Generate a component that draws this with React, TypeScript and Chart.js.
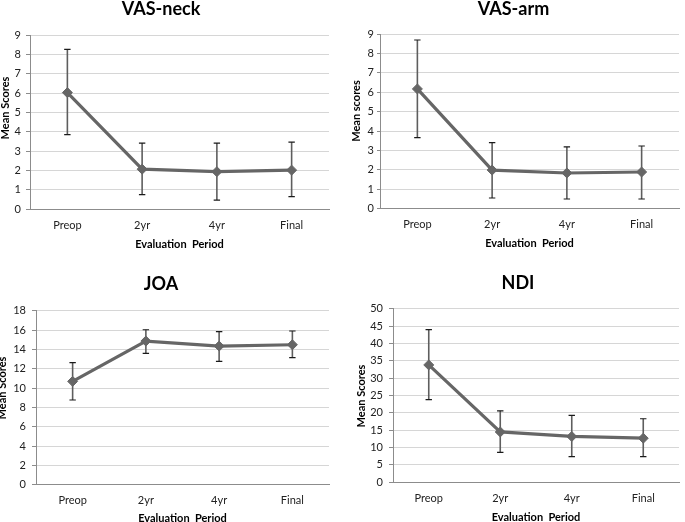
import React, { useEffect, useRef } from "react";
import { Chart, registerables } from "chart.js";

Chart.register(...registerables);

const categories = ["Preop", "2yr", "4yr", "Final"];

const vasNeckMean = [6.02, 2.06, 1.93, 2.01];
const vasNeckUpper = [8.26, 3.41, 3.41, 3.46];
const vasNeckLower = [3.85, 0.74, 0.46, 0.64];

const vasArmMean = [6.17, 1.99, 1.84, 1.89];
const vasArmUpper = [8.69, 3.4, 3.18, 3.23];
const vasArmLower = [3.66, 0.55, 0.5, 0.5];

const joaMean = [10.69, 14.86, 14.34, 14.48];
const joaUpper = [12.62, 16.03, 15.83, 15.9];
const joaLower = [8.76, 13.59, 12.76, 13.14];

const ndiMean = [33.8, 14.5, 13.2, 12.7];
const ndiUpper = [44.0, 20.6, 19.3, 18.3];
const ndiLower = [23.8, 8.6, 7.4, 7.4];

const FONT = "Lato, 'Open Sans', sans-serif";
const LINE = "#666666";
const TICK = "#222222";

type PanelProps = {
  title: string;
  yTitle: string;
  mean: number[];
  upper: number[];
  lower: number[];
  yMax: number;
  yStep: number;
  left: number;
  top: number;
  w: number;
  h: number;
  padR: number;
  yW: number;
  titlePadTop: number;
  titlePadBottom: number;
  xH: number;
  xTickPad: number;
  xTitlePb: number;
  yTickLen: number;
  yTickPad: number;
  yTitleX: number;
  yTitleY: number;
};

function Panel(p: PanelProps) {
  const ref = useRef<HTMLCanvasElement | null>(null);
  useEffect(() => {
    if (!ref.current) return;
    const errorBars = {
      id: "errorBars",
      beforeDatasetsDraw(chart: any) {
        const ctx = chart.ctx;
        const xs = chart.scales.x;
        const ys = chart.scales.y;
        ctx.save();
        for (let i = 0; i < p.mean.length; i++) {
          const x = xs.getPixelForValue(i);
          const yu = ys.getPixelForValue(p.upper[i]);
          const yl = ys.getPixelForValue(p.lower[i]);
          ctx.strokeStyle = "#5e5e5e";
          ctx.lineWidth = 1.6;
          ctx.beginPath();
          ctx.moveTo(x, yu);
          ctx.lineTo(x, yl);
          ctx.stroke();
          ctx.strokeStyle = "#1a1a1a";
          ctx.lineWidth = 1.2;
          ctx.beginPath();
          ctx.moveTo(x - 3.2, yu);
          ctx.lineTo(x + 3.2, yu);
          ctx.moveTo(x - 3.2, yl);
          ctx.lineTo(x + 3.2, yl);
          ctx.stroke();
        }
        ctx.restore();
      },
    };
    const yTitlePlugin = {
      id: "yTitlePlugin",
      afterDraw(chart: any) {
        const ctx = chart.ctx;
        ctx.save();
        ctx.translate(p.yTitleX, p.yTitleY);
        ctx.rotate(-Math.PI / 2);
        ctx.font = `bold 11px ${FONT}`;
        ctx.fillStyle = "#000000";
        ctx.textAlign = "center";
        ctx.textBaseline = "middle";
        ctx.fillText(p.yTitle, 0, 0);
        ctx.restore();
      },
    };
    const chart = new Chart(ref.current, {
      type: "line",
      data: {
        labels: categories,
        datasets: [
          {
            data: p.mean,
            borderColor: LINE,
            backgroundColor: LINE,
            borderWidth: 3.2,
            pointStyle: "rectRot",
            pointRadius: 5,
            pointBorderWidth: 1,
            pointBackgroundColor: LINE,
            pointBorderColor: LINE,
            tension: 0,
          },
        ],
      },
      options: {
        animation: false,
        responsive: false,
        devicePixelRatio: 1,
        layout: { padding: { left: 0, right: p.padR, top: 0, bottom: 0 } },
        plugins: {
          legend: { display: false },
          tooltip: { enabled: false },
          title: {
            display: true,
            text: p.title,
            color: "#000000",
            font: { family: FONT, size: 18, weight: "bold", lineHeight: 1 },
            padding: { top: p.titlePadTop, bottom: p.titlePadBottom },
          },
        },
        scales: {
          x: {
            type: "category",
            offset: true,
            grid: { display: false, drawTicks: false, tickLength: 0 },
            border: { display: true, color: "#8c8c8c", width: 1 },
            ticks: {
              color: TICK,
              font: { family: FONT, size: 11 },
              padding: p.xTickPad,
              maxRotation: 0,
              autoSkip: false,
            },
            title: {
              display: true,
              text: "Evaluation  Period",
              color: "#000000",
              font: { family: FONT, size: 11, weight: "bold", lineHeight: 1 },
              padding: { top: 0, bottom: p.xTitlePb },
            },
            afterFit: (s: any) => {
              s.height = p.xH;
            },
          },
          y: {
            min: 0,
            max: p.yMax,
            grid: {
              color: "#d6d6d6",
              lineWidth: 1,
              drawTicks: true,
              tickLength: p.yTickLen,
              tickColor: "#8c8c8c",
            },
            border: { display: true, color: "#8c8c8c", width: 1 },
            ticks: {
              stepSize: p.yStep,
              color: TICK,
              font: { family: FONT, size: 11 },
              padding: p.yTickPad,
            },
            afterFit: (s: any) => {
              s.width = p.yW;
            },
          },
        },
      },
      plugins: [errorBars, yTitlePlugin],
    } as any);
    return () => chart.destroy();
  }, []);
  return (
    <canvas
      ref={ref}
      width={p.w}
      height={p.h}
      style={{ position: "absolute", left: p.left, top: p.top, width: p.w, height: p.h }}
    />
  );
}

export default function App() {
  return (
    <div
      style={{
        position: "fixed",
        left: 0,
        top: 0,
        width: 685,
        height: 522,
        overflow: "hidden",
        background: "#ffffff",
      }}
    >
      <Panel
        title="VAS-neck"
        yTitle="Mean Scores"
        mean={vasNeckMean}
        upper={vasNeckUpper}
        lower={vasNeckLower}
        yMax={9}
        yStep={1}
        left={-7}
        top={0}
        w={347}
        h={260}
        padR={11}
        yW={37}
        titlePadTop={0}
        titlePadBottom={17}
        xH={51}
        xTickPad={9.4}
        xTitlePb={10}
        yTickLen={4}
        yTickPad={5}
        yTitleX={12}
        yTitleY={108}
      />
      <Panel
        title="VAS-arm"
        yTitle="Mean scores"
        mean={vasArmMean}
        upper={vasArmUpper}
        lower={vasArmLower}
        yMax={9}
        yStep={1}
        left={348}
        top={0}
        w={337}
        h={260}
        padR={6}
        yW={32}
        titlePadTop={0}
        titlePadBottom={16}
        xH={51.3}
        xTickPad={8.7}
        xTitlePb={11.5}
        yTickLen={3}
        yTickPad={3}
        yTitleX={8.7}
        yTitleY={111}
      />
      <Panel
        title="JOA"
        yTitle="Mean Scores"
        mean={joaMean}
        upper={joaUpper}
        lower={joaLower}
        yMax={18}
        yStep={2}
        left={-7}
        top={260}
        w={347}
        h={264}
        padR={11}
        yW={43}
        titlePadTop={15.5}
        titlePadBottom={17.2}
        xH={39.3}
        xTickPad={8.7}
        xTitlePb={0}
        yTickLen={4}
        yTickPad={6}
        yTitleX={9}
        yTitleY={128}
      />
      <Panel
        title="NDI"
        yTitle="Mean Scores"
        mean={ndiMean}
        upper={ndiUpper}
        lower={ndiLower}
        yMax={50}
        yStep={5}
        left={351}
        top={260}
        w={334}
        h={264}
        padR={0}
        yW={42}
        titlePadTop={14}
        titlePadBottom={16.7}
        xH={41.7}
        xTickPad={9.1}
        xTitlePb={1}
        yTickLen={4}
        yTickPad={6}
        yTitleX={10.7}
        yTitleY={136}
      />
    </div>
  );
}
